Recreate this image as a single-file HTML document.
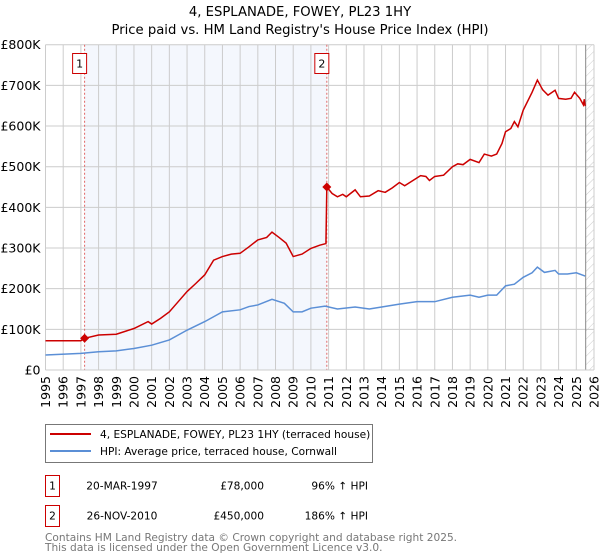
<!DOCTYPE html>
<html><head><meta charset="utf-8"><style>
body{margin:0;background:#fff;width:600px;height:560px;overflow:hidden;font-family:"DejaVu Sans","Liberation Sans",sans-serif}
svg{display:block}
</style></head><body>
<svg id="chart" width="600" height="560" xmlns="http://www.w3.org/2000/svg" font-family="DejaVu Sans, Liberation Sans, sans-serif">
<defs>
<pattern id="hatch" width="6" height="6" patternUnits="userSpaceOnUse" patternTransform="rotate(45)">
<line x1="0" y1="0" x2="0" y2="6" stroke="#ccc" stroke-width="1"/></pattern>
</defs>
<text x="300" y="16" text-anchor="middle" font-size="13.2">4, ESPLANADE, FOWEY, PL23 1HY</text>
<text x="300" y="34" text-anchor="middle" font-size="13.2">Price paid vs. HM Land Registry's House Price Index (HPI)</text>
<g id="plot"></g>
<g>
<rect x="45.5" y="424.5" width="327" height="38" fill="#fff" stroke="#777"/>
<line x1="50" y1="434" x2="91" y2="434" stroke="#cc0000" stroke-width="2"/>
<text x="100" y="438" font-size="10.6">4, ESPLANADE, FOWEY, PL23 1HY (terraced house)</text>
<line x1="50" y1="451" x2="91" y2="451" stroke="#5b8fd6" stroke-width="2"/>
<text x="100" y="455" font-size="10.6">HPI: Average price, terraced house, Cornwall</text>
</g>
<g font-size="10.6">
<rect x="45.5" y="475.5" width="14" height="21" fill="#fff" stroke="#cc0000"/>
<text x="52.5" y="489.5" text-anchor="middle">1</text>
<text x="122" y="489.5" text-anchor="middle">20-MAR-1997</text>
<text x="264" y="489.5" text-anchor="end">£78,000</text>
<text x="368" y="489.5" text-anchor="end">96% ↑ HPI</text>
<rect x="45.5" y="505.5" width="14" height="21" fill="#fff" stroke="#cc0000"/>
<text x="52.5" y="519.5" text-anchor="middle">2</text>
<text x="122" y="519.5" text-anchor="middle">26-NOV-2010</text>
<text x="264" y="519.5" text-anchor="end">£450,000</text>
<text x="368" y="519.5" text-anchor="end">186% ↑ HPI</text>
</g>
<g font-size="10.6" fill="#777">
<text x="45" y="541">Contains HM Land Registry data © Crown copyright and database right 2025.</text>
<text x="45" y="551">This data is licensed under the Open Government Licence v3.0.</text>
</g>
</svg>
<script>
const yTicks=[0,100,200,300,400,500,600,700,800];
const yTickLabels=["£0","£100K","£200K","£300K","£400K","£500K","£600K","£700K","£800K"];
const years=[1995,1996,1997,1998,1999,2000,2001,2002,2003,2004,2005,2006,2007,2008,2009,2010,2011,2012,2013,2014,2015,2016,2017,2018,2019,2020,2021,2022,2023,2024,2025,2026];
const saleDates=[1997.21,2010.9];
const salePrices=[78,450];
const saleLabels=["1","2"];
const propT=[1995,1996,1997,1997.21,1998,1999,2000,2000.8,2001,2001.5,2002,2002.5,2003,2003.5,2004,2004.5,2005,2005.5,2006,2006.5,2007,2007.5,2007.8,2008.2,2008.6,2009,2009.5,2010,2010.5,2010.85,2010.9,2011.2,2011.5,2011.8,2012,2012.5,2012.8,2013.3,2013.8,2014.2,2014.6,2015,2015.3,2015.8,2016.2,2016.5,2016.7,2017,2017.5,2018,2018.3,2018.6,2019,2019.5,2019.8,2020.2,2020.5,2020.8,2021,2021.3,2021.5,2021.7,2022,2022.5,2022.8,2023.1,2023.4,2023.8,2024,2024.4,2024.7,2024.9,2025.2,2025.4,2025.45,2025.5];
const propV=[72,72,72,78,86,88,102,119,113,127,143,168,193,213,234,270,279,285,287,303,320,326,339,326,312,279,285,299,307,311,450,434,426,432,426,443,426,428,441,437,448,461,453,467,478,476,466,476,479,500,507,505,518,510,531,526,531,557,586,594,611,598,639,683,713,689,676,688,668,666,668,683,668,652,666,649];
const hpiT=[1995,1997,1998,1999,2000,2001,2002,2003,2004,2004.5,2005,2006,2006.5,2007,2007.8,2008.5,2009,2009.5,2010,2010.8,2011.5,2012.5,2013.3,2014,2015,2016,2017,2018,2019,2019.5,2020,2020.5,2021,2021.5,2022,2022.5,2022.8,2023.2,2023.8,2024,2024.5,2025,2025.5];
const hpiV=[37,41,45,47,53,61,74,98,119,131,143,148,156,160,174,164,143,143,152,157,150,155,150,155,162,168,168,179,184,179,184,184,207,211,228,239,253,240,245,236,236,239,231];

const L=45.5,R=594,T=44.7,B=370;
const x=t=>L+(t-1995)*(R-L)/31;
const y=v=>B-v*(B-T)/800;
const NS="http://www.w3.org/2000/svg";
const g=document.getElementById('plot');
function mk(tag,attrs,parent){const e=document.createElementNS(NS,tag);for(const k in attrs)e.setAttribute(k,attrs[k]);(parent||g).appendChild(e);return e;}
const sh=mk('rect',{x:x(saleDates[0]),y:T,width:x(saleDates[1])-x(saleDates[0]),height:B-T,fill:'#f4f7fd'});


const ht=mk('rect',{x:x(2025.53),y:T,width:R-x(2025.53),height:B-T,fill:'url(#hatch)'});


years.forEach(yr=>{
 const gl=mk('line',{x1:x(yr),x2:x(yr),y1:T,y2:B,stroke:'#ccc','stroke-width':1});
 
 
 const tx=mk('text',{x:0,y:0,'font-size':12.5,'text-anchor':'end',transform:`translate(${x(yr)+4.5},${B+6}) rotate(-90)`});
 tx.textContent=yr;
 
 
});
yTicks.forEach((v,i)=>{
 const gl=mk('line',{x1:L,x2:R,y1:y(v),y2:y(v),stroke:'#ccc','stroke-width':1});
 
 
 const tx=mk('text',{x:L-5,y:y(v)+4.5,'font-size':12.5,'text-anchor':'end'});
 tx.textContent=yTickLabels[i];
 
 
});
const el=mk('line',{x1:x(2025.53),x2:x(2025.53),y1:T,y2:B,stroke:'#888','stroke-width':1});


saleDates.forEach((d,i)=>{
 const vl=mk('line',{x1:x(d),x2:x(d),y1:T,y2:B,stroke:'#e06666','stroke-width':1,'stroke-dasharray':'2,2'});
 
 
 const bx=mk('rect',{x:x(d)-7-5,y:53.5,width:14,height:20,fill:'#fff',stroke:'#cc0000'});
 
 
 const tx=mk('text',{x:x(d)-5,y:67.5,'font-size':11,'text-anchor':'middle'});
 tx.textContent=saleLabels[i];
 
 
});
const hp=mk('polyline',{points:hpiT.map((t,i)=>x(t)+','+y(hpiV[i])).join(' '),fill:'none',stroke:'#5b8fd6','stroke-width':1.5});


const pp=mk('polyline',{points:propT.map((t,i)=>x(t)+','+y(propV[i])).join(' '),fill:'none',stroke:'#cc0000','stroke-width':1.5});


saleDates.forEach((d,i)=>{
 const cx=x(d),cy=y(salePrices[i]);
 const m=mk('polygon',{points:`${cx},${cy-4.5} ${cx+4.5},${cy} ${cx},${cy+4.5} ${cx-4.5},${cy}`,fill:'#cc0000'});
 
 
});
const ax=mk('line',{x1:L,x2:R,y1:B,y2:B,stroke:'#ccc'});


</script>
</body></html>
